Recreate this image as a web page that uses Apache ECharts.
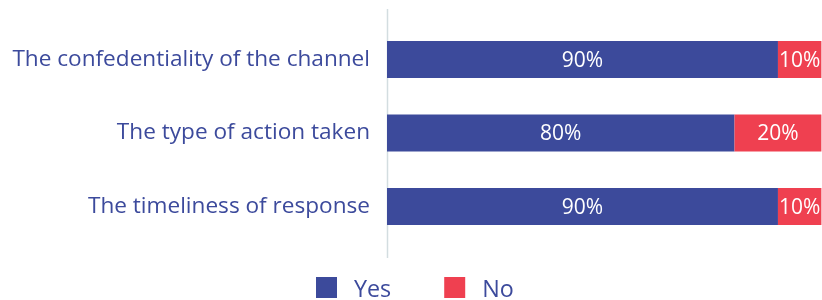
<!DOCTYPE html>
<html><head><meta charset="utf-8">
<script src="https://cdn.jsdelivr.net/npm/echarts@6/dist/echarts.min.js"></script>
<style>html,body{margin:0;padding:0;background:#fff}#c{width:822px;height:300px}</style>
</head><body><div id="c"></div>
<script>
const categories = ["The confedentiality of the channel", "The type of action taken", "The timeliness of response"];
const yesValues = [90, 80, 90];
const noValues = [10, 20, 10];
const seriesNames = ["Yes", "No"];

const blue = "#3c4a9b", red = "#ef4050", textColor = "#3c4a9c";
const chart = echarts.init(document.getElementById('c'), null, {renderer: 'canvas'});
chart.setOption({
  animation: false,
  textStyle: {fontFamily: "Open Sans"},
  grid: {left: 387, right: 0.6, top: 22.75, bottom: 56.75},
  graphic: [{type: 'line', shape: {x1: 387.5, y1: 9, x2: 387.5, y2: 258}, style: {stroke: '#d3dde0', lineWidth: 1.5}}],
  xAxis: {type: 'value', min: 0, max: 100, show: false},
  yAxis: {type: 'category', inverse: true, data: categories,
    axisLine: {show: false}, axisTick: {show: false},
    axisLabel: {color: textColor, fontSize: 22.6, margin: 17, fontFamily: "Open Sans"}},
  legend: {data: seriesNames, top: 277, left: 316, padding: 0, itemWidth: 21, itemHeight: 21, itemGap: 53,
    icon: 'rect', formatter: '{a|{name}}',
    textStyle: {color: textColor, fontSize: 23.3, fontFamily: "Open Sans",
      rich: {a: {color: textColor, fontSize: 23.3, fontFamily: "Open Sans", padding: [6, 0, 0, 12]}}}},
  series: [
    {name: seriesNames[0], type: 'bar', stack: 't', data: yesValues, barWidth: 37, itemStyle: {color: blue},
     label: {show: true, position: 'inside', offset: [0, 1.5], color: '#fff', fontSize: 21, fontFamily: "Open Sans", formatter: '{c}%'}},
    {name: seriesNames[1], type: 'bar', stack: 't', data: noValues, barWidth: 37, itemStyle: {color: red},
     label: {show: true, position: 'inside', offset: [0, 1.5], color: '#fff', fontSize: 21, fontFamily: "Open Sans", formatter: '{c}%'}}
  ]
});
</script></body></html>
